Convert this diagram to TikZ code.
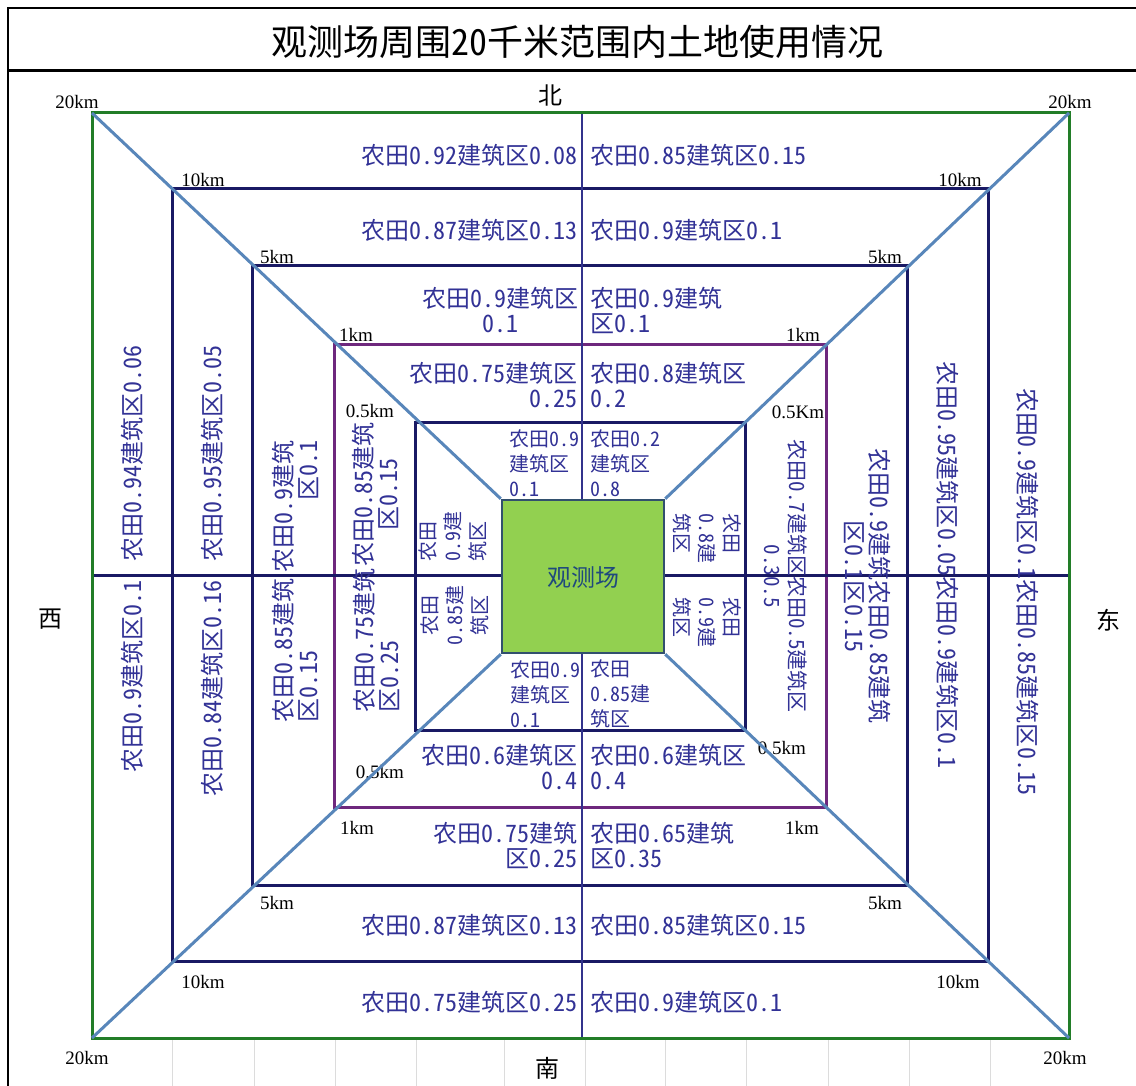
\documentclass[tikz,border=0pt]{standalone}
\usepackage{fontspec}
\setmainfont{Liberation Serif}
\newfontfamily\cjk[RawFeature=+hwid]{Noto Sans CJK SC}
\newfontfamily\cjkplain{Noto Sans CJK SC}
\definecolor{datc}{RGB}{50,50,150}
\definecolor{navyc}{RGB}{25,25,100}
\definecolor{vlinec}{RGB}{50,50,140}
\definecolor{greenc}{RGB}{34,125,40}
\definecolor{purplec}{RGB}{110,40,125}
\definecolor{diagc}{RGB}{88,134,186}
\definecolor{fieldc}{RGB}{146,208,80}
\definecolor{fieldedge}{RGB}{50,80,110}
\definecolor{fieldtext}{RGB}{31,73,125}
\definecolor{gridc}{RGB}{220,220,220}
\begin{document}
\begin{tikzpicture}[x=1pt,y=-1pt,
  dat/.style={text=datc, font=\cjk\fontsize{24}{25}\selectfont, inner sep=0pt},
  sm/.style={text=datc, font=\cjk\fontsize{20}{25}\selectfont, inner sep=0pt},
  mid/.style={text=datc, font=\cjk\fontsize{21}{25}\selectfont, inner sep=0pt},
  km/.style={font=\fontsize{19}{20}\selectfont, inner sep=0pt},
  dirl/.style={font=\cjkplain\fontsize{24}{26}\selectfont, inner sep=0pt},
  frame/.style={line width=2pt, black},
  ring/.style={line width=3pt, navyc},
  greenring/.style={line width=3pt, greenc},
  purplering/.style={line width=3pt, purplec},
  diag/.style={line width=3pt, diagc},
  grid/.style={line width=1pt, gridc}]
\useasboundingbox (0,0) rectangle (1136,1086);
\fill[white] (0,0) rectangle (1136,1086);

% excel gridlines below the chart
\foreach \gx in {172,254,335,416,504,585,665,746,828,909,990}
  \draw[grid] (\gx,1040) -- (\gx,1086);

% outer frame and title
\coordinate (FTL) at (8,8);
\coordinate (FTR) at (1136,8);
\coordinate (FBL) at (8,1086);
\coordinate (SL) at (8,71);
\coordinate (SR) at (1136,71);
\draw[frame] (FBL) -- (FTL) -- (FTR);
\draw[line width=3pt] (SL) -- (SR);
\node[font=\cjk\fontsize{36}{40}\selectfont, inner sep=0pt] (title) at (577,42) {观测场周围20千米范围内土地使用情况};

% ring corners
\coordinate (G1) at (92,113);   \coordinate (G2) at (1069,1038);
\coordinate (GTR) at (1069,113); \coordinate (GBL) at (92,1038);
\coordinate (T1) at (172,189);  \coordinate (T2) at (988,961);
\coordinate (F1) at (252,266);  \coordinate (F2) at (907,885);
\coordinate (K1) at (334,344);  \coordinate (K2) at (826,807);
\coordinate (H1) at (415,422);  \coordinate (H2) at (745,730);
\coordinate (N) at (582,113);   \coordinate (S) at (582,1038);
\coordinate (W) at (92,575);    \coordinate (E) at (1069,575);

\draw[ring] (T1) rectangle (T2);
\draw[ring] (F1) rectangle (F2);
\draw[purplering] (K1) rectangle (K2);
\draw[ring] (H1) rectangle (H2);
\draw[line width=2.5pt, vlinec] (N) -- (S);
\draw[ring] (W) -- (E);
\draw[greenring] (G1) rectangle (G2);

% direction labels
\node[dirl] (north) at (550,95) {北};
\node[dirl] (south) at (547,1068) {南};
\node[dirl] (west) at (50,619) {西};
\node[dirl] (east) at (1108,620) {东};

% distance labels
\node[km] (k20a) at (77,102) {20km};
\node[km] (k20b) at (1070,102) {20km};
\node[km] (k20c) at (87,1058) {20km};
\node[km] (k20d) at (1065,1058) {20km};
\node[km] (k10a) at (203,180) {10km};
\node[km] (k10b) at (960,180) {10km};
\node[km] (k10c) at (203,982) {10km};
\node[km] (k10d) at (958,982) {10km};
\node[km] (k5a) at (277,257) {5km};
\node[km] (k5b) at (885,257) {5km};
\node[km] (k5c) at (277,903) {5km};
\node[km] (k5d) at (885,903) {5km};
\node[km] (k1a) at (356,335) {1km};
\node[km] (k1b) at (803,335) {1km};
\node[km] (k1c) at (357,828) {1km};
\node[km] (k1d) at (802,828) {1km};
\node[km] (kha) at (370,411) {0.5km};
\node[km] (khb) at (798,412) {0.5Km};
\node[km] (khc) at (380,772) {0.5km};
\node[km] (khd) at (782,748) {0.5km};

% north sectors
\node[dat, anchor=east] (n1l) at (578,155) {农田0.92建筑区0.08};
\node[dat, anchor=west] (n1r) at (590,155) {农田0.85建筑区0.15};
\node[dat, anchor=east] (n2l) at (578,230) {农田0.87建筑区0.13};
\node[dat, anchor=west] (n2r) at (590,230) {农田0.9建筑区0.1};
\node[dat, align=center] (n3l) at (500,310) {农田0.9建筑区\\0.1};
\node[dat, anchor=west, align=left] (n3r) at (590,310) {农田0.9建筑\\区0.1};
\node[dat, anchor=east, align=right] (n4l) at (578,385) {农田0.75建筑区\\0.25};
\node[dat, anchor=west, align=left] (n4r) at (590,385) {农田0.8建筑区\\0.2};
\node[sm, anchor=west, align=left] (n5l) at (509,463) {农田0.9\\建筑区\\0.1};
\node[sm, anchor=west, align=left] (n5r) at (590,463) {农田0.2\\建筑区\\0.8};

% south sectors
\node[sm, anchor=west, align=left] (s5l) at (510,694) {农田0.9\\建筑区\\0.1};
\node[sm, anchor=west, align=left] (s5r) at (590,694) {农田\\0.85建\\筑区};
\node[dat, anchor=east, align=right] (s4l) at (578,767) {农田0.6建筑区\\0.4};
\node[dat, anchor=west, align=left] (s4r) at (590,767) {农田0.6建筑区\\0.4};
\node[dat, anchor=east, align=right] (s3l) at (578,845) {农田0.75建筑\\区0.25};
\node[dat, anchor=west, align=left] (s3r) at (590,845) {农田0.65建筑\\区0.35};
\node[dat, anchor=east] (s2l) at (578,925) {农田0.87建筑区0.13};
\node[dat, anchor=west] (s2r) at (590,925) {农田0.85建筑区0.15};
\node[dat, anchor=east] (s1l) at (578,1002) {农田0.75建筑区0.25};
\node[dat, anchor=west] (s1r) at (590,1002) {农田0.9建筑区0.1};

% west sectors (text reads upward)
\node[dat, rotate=90, anchor=west] (w1u) at (132,562) {农田0.94建筑区0.06};
\node[dat, rotate=90, anchor=east] (w1d) at (132,580) {农田0.9建筑区0.1};
\node[dat, rotate=90, anchor=west] (w2u) at (212,562) {农田0.95建筑区0.05};
\node[dat, rotate=90, anchor=east] (w2d) at (212,580) {农田0.84建筑区0.16};
\node[dat, rotate=90, anchor=east, align=right] (w3u) at (295,440) {农田0.9建筑\\区0.1};
\node[dat, rotate=90, anchor=west, align=left] (w3d) at (295,723) {农田0.85建筑\\区0.15};
\node[dat, rotate=90, align=center] (w4u) at (375,494) {农田0.85建筑\\区0.15};
\node[dat, rotate=90, anchor=west, align=left] (w4d) at (376,713) {农田0.75建筑\\区0.25};
\node[sm, rotate=90, anchor=west, align=left] (w5u) at (453,562) {农田\\0.9建\\筑区};
\node[sm, rotate=90, align=center] (w5d) at (455,615) {农田\\0.85建\\筑区};

% east sectors (text reads downward)
\node[sm, rotate=-90, anchor=west, align=left] (e5u) at (707,513) {农田\\0.8建\\筑区};
\node[sm, rotate=-90, anchor=west, align=left] (e5d) at (707,597) {农田\\0.9建\\筑区};
\node[mid, rotate=-90, align=center] (e4) at (786,576) {农田0.7建筑区农田0.5建筑区\\0.30.5};
\node[dat, rotate=-90, align=center] (e3) at (868,586) {农田0.9建筑农田0.85建筑\\区0.1区0.15};
\node[dat, rotate=-90] (e2) at (948,565) {农田0.95建筑区0.05农田0.9建筑区0.1};
\node[dat, rotate=-90] (e1) at (1028,592) {农田0.9建筑区0.1农田0.85建筑区0.15};

% observation field
\node[draw=fieldedge, fill=fieldc, line width=2.5pt, minimum width=162pt, minimum height=153pt, inner sep=0pt] (C) at (583,576.5) {};
\node[font=\cjk\fontsize{24}{26}\selectfont, text=fieldtext, inner sep=0pt] (Clabel) at (583,577) {观测场};

% diagonals
\draw[diag] (G1) -- (C.north west);
\draw[diag] (GTR) -- (C.north east);
\draw[diag] (GBL) -- (C.south west);
\draw[diag] (G2) -- (C.south east);
\end{tikzpicture}
\end{document}
